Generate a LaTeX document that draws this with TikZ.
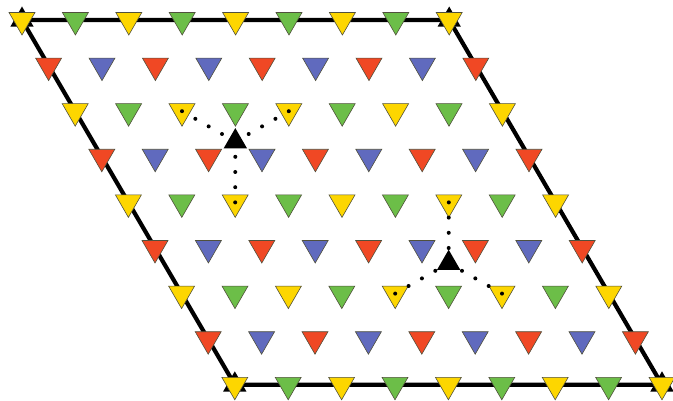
\documentclass[tikz,border=0pt]{standalone}
\usetikzlibrary{shapes.geometric,calc}
\definecolor{tc0}{RGB}{253,214,0}
\definecolor{tc1}{RGB}{108,190,72}
\definecolor{tc2}{RGB}{240,72,36}
\definecolor{tc3}{RGB}{96,106,190}
\definecolor{tedge}{RGB}{80,80,60}
\begin{document}
\begin{tikzpicture}[
  x=1pt,y=-1pt,
  tri/.style={regular polygon,regular polygon sides=3,shape border rotate=180,
    inner sep=0pt,minimum size=30pt,draw=tedge,line width=0.6pt},
  up/.style={regular polygon,regular polygon sides=3,inner sep=0pt,
    minimum size=27pt,fill=black},
  frame/.style={line width=4.2pt,line join=miter},
  link/.style={fill=black}
]
  \useasboundingbox (0,0) rectangle (673,401);
  % corners of the cell
  \coordinate (nw) at (22,20);
  \coordinate (ne) at (449.2,20);
  \coordinate (se) at (662,384.8);
  \coordinate (sw) at (234.8,384.8);
  \draw[frame] (nw) -- (ne) -- (se) -- (sw) -- cycle;
  \foreach \c in {nw,ne,se,sw}
    \node[up] (k-\c) at (\c) {};
  % lattice of small triangles
  \foreach \j in {0,...,8}
    \foreach \i in {0,...,8} {
      \pgfmathtruncatemacro\k{mod(\i,2)+2*mod(\j,2)}
      \node[tri,fill=tc\k] (t-\i-\j) at ({22+53.4*\i+26.6*\j},{20+45.6*\j}) {};
    }
  % the two threefold sites
  \coordinate (a) at ($1/3*(t-2-2)+1/3*(t-4-2)+1/3*(t-2-4)$);
  \coordinate (b) at ($1/3*(t-6-4)+1/3*(t-4-6)+1/3*(t-6-6)$);
  \foreach \t in {0,0.25,0.5,0.75} {
    \fill[link] ($(t-2-2)!\t!(a)$) circle (2);
    \fill[link] ($(t-4-2)!\t!(a)$) circle (2);
    \fill[link] ($(t-2-4)!\t!(a)$) circle (2);
    \fill[link] ($(t-6-4)!\t!(b)$) circle (2);
    \fill[link] ($(t-4-6)!\t!(b)$) circle (2);
    \fill[link] ($(t-6-6)!\t!(b)$) circle (2);
  }
  \node[up] (k-a) at (a) {};
  \node[up] (k-b) at (b) {};
\end{tikzpicture}
\end{document}
